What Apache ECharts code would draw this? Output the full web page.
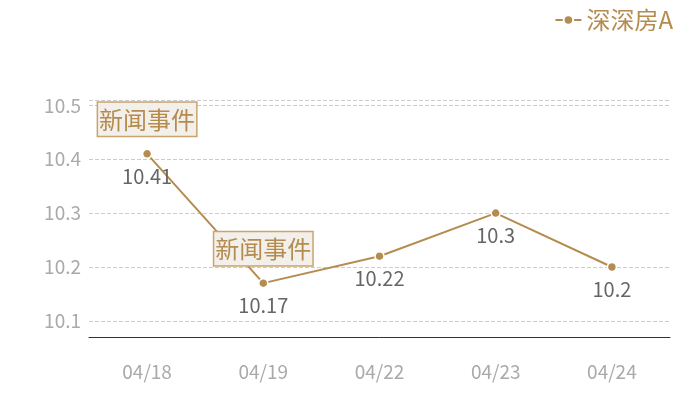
<!DOCTYPE html>
<html><head><meta charset="utf-8">
<script src="https://cdn.jsdelivr.net/npm/echarts@6/dist/echarts.min.js"></script>
<style>html,body{margin:0;padding:0;background:#fff}#c{width:700px;height:400px}</style>
</head><body><div id="c"></div>
<script>
var categories = ['04/18','04/19','04/22','04/23','04/24'];
var values = [10.41, 10.17, 10.22, 10.3, 10.2];
var seriesName = '深深房A';
var eventIdx = [0, 1];
var eventText = '新闻事件';
var yMin = 10.07, yMax = 10.51;

var gold = '#b58c4f';
var font = '"Noto Sans CJK SC", "Noto Sans", sans-serif';
var chart = echarts.init(document.getElementById('c'));
chart.setOption({
  animation: false,
  textStyle: {fontFamily: font},
  legend: {
    right: 22, top: 3,
    itemWidth: 26, itemHeight: 12, itemGap: 6,
    textStyle: {color: gold, fontSize: 24, fontFamily: font},
    data: [seriesName]
  },
  grid: {left: 89, right: 30, top: 100, bottom: 63},
  xAxis: {
    type: 'category', data: categories, boundaryGap: true,
    axisLine: {lineStyle: {color: '#333'}},
    axisTick: {show: false},
    axisLabel: {color: '#aaa', fontSize: 19, margin: 25, fontFamily: font}
  },
  yAxis: {
    type: 'value', min: yMin, max: yMax,
    axisLine: {show: false}, axisTick: {show: false},
    splitLine: {lineStyle: {color: '#ccc', type: 'dashed'}},
    axisLabel: {color: '#aaa', fontSize: 19, margin: 8, showMinLabel: false, showMaxLabel: false, fontFamily: font}
  },
  series: [{
    name: seriesName, type: 'line', data: values,
    symbol: 'circle', symbolSize: 9,
    itemStyle: {color: gold, borderColor: '#fff', borderWidth: 1.5},
    lineStyle: {color: gold, width: 2},
    label: {show: true, position: 'bottom', distance: 7, color: '#666', fontSize: 20, fontFamily: font},
    markPoint: {
      symbol: 'rect', symbolSize: 0,
      label: {
        show: true, position: 'top', distance: 18,
        formatter: eventText,
        color: gold, fontSize: 24, lineHeight: 30, fontFamily: font,
        backgroundColor: '#f3efea', borderColor: '#c9a46c', borderWidth: 1.5,
        padding: [2, 1, 1, 1]
      },
      data: eventIdx.map(function(i){ return {coord: [categories[i], values[i]], value: values[i]}; })
    }
  }]
});
</script></body></html>
